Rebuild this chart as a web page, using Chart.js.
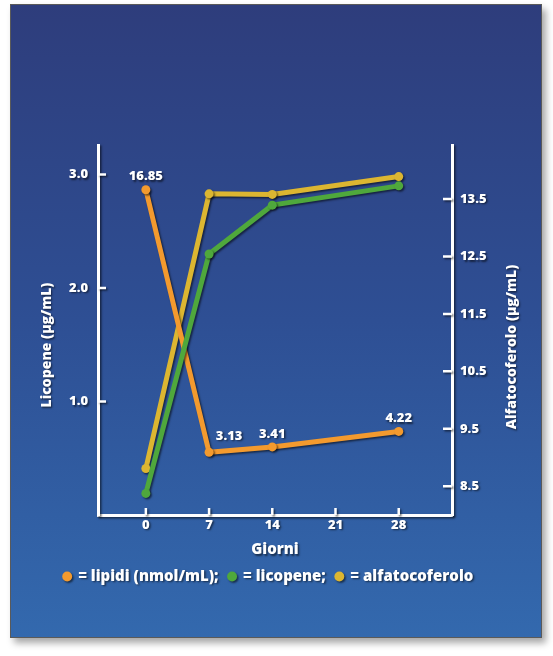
<!DOCTYPE html>
<html>
<head>
<meta charset="utf-8">
<script src="https://cdn.jsdelivr.net/npm/chart.js@4.4.1/dist/chart.umd.min.js"></script>
<style>
html, body { margin: 0; padding: 0; background: #ffffff; }
#panel {
    position: absolute; left: 10px; top: 4px; width: 530px; height: 632px;
    border: 1px solid #5a5a5a;
    background: linear-gradient(to bottom, #2e3d7c 0%, #2e4f94 50%, #3369ae 100%);
    box-shadow: 4px 5px 7px rgba(0,0,0,0.35);
}
#wrap { position: absolute; left: 0; top: 0; width: 553px; height: 656px; }
</style>
</head>
<body>
<div id="panel"></div>
<div id="wrap"><canvas id="grafico"></canvas></div>
<script>
// giorni (asse x)
var giorni_ticks = [0, 7, 14, 21, 28]
var giorni = [0, 7, 14, 28]
// serie
var lipidi = [16.85, 3.13, 3.41, 4.22]          // nmol/mL (etichette sui punti)
var licopene = [0.19, 2.30, 2.73, 2.90]         // ug/mL, asse sinistro
var alfatocoferolo = [8.81, 13.59, 13.58, 13.89] // ug/mL, asse destro
// tacche
var licopene_ticks = [1.0, 2.0, 3.0]
var alfa_ticks = [8.5, 9.5, 10.5, 11.5, 12.5, 13.5]

var titolo_sx = "Licopene (\u00b5g/mL)"
var titolo_dx = "Alfatocoferolo (\u00b5g/mL)"
var titolo_x = "Giorni"

var ARANCIO = "#f39a2e"
var VERDE = "#4fa83c"
var GIALLO = "#dcb631"
var FONT = "'Open Sans', 'DejaVu Sans', sans-serif"

function punti(valori){
    return giorni.map(function(g, i){ return {x: g, y: valori[i]} })
}

function setTicks(valori){
    return function(scale){
        scale.ticks = valori.map(function(v){ return {value: v} })
    }
}

var decorazioni = {
    id: "decorazioni",
    beforeDraw: function(chart){
        var ctx = chart.ctx
        ctx.save()
        ctx.shadowColor = "rgba(0,0,0,0.55)"
        ctx.shadowOffsetX = 1.5
        ctx.shadowOffsetY = 1.5
        ctx.shadowBlur = 2
    },
    afterDraw: function(chart){
        var ctx = chart.ctx
        var area = chart.chartArea
        var sx = chart.scales.y, dx = chart.scales.y2, xs = chart.scales.x

        // tacche interne
        ctx.strokeStyle = "#ffffff"
        ctx.lineWidth = 2.5
        ctx.beginPath()
        licopene_ticks.forEach(function(v){
            var py = sx.getPixelForValue(v)
            ctx.moveTo(area.left, py); ctx.lineTo(area.left + 8, py)
        })
        alfa_ticks.forEach(function(v){
            var py = dx.getPixelForValue(v)
            ctx.moveTo(area.right, py); ctx.lineTo(area.right - 9, py)
        })
        giorni_ticks.forEach(function(v){
            var px = xs.getPixelForValue(v)
            ctx.moveTo(px, area.bottom); ctx.lineTo(px, area.bottom - 7)
        })
        ctx.stroke()

        // etichette lipidi
        ctx.fillStyle = "#ffffff"
        ctx.font = "800 13px " + FONT
        ctx.textAlign = "center"
        ctx.textBaseline = "middle"
        var meta = chart.getDatasetMeta(0)
        meta.data.forEach(function(p, i){
            var ox = (i == 1) ? 20 : 0
            var oy = (i == 1) ? -16 : -13
            ctx.fillText(lipidi[i].toFixed(2), p.x + ox, p.y + oy)
        })

        // titoli assi verticali
        ctx.font = "800 14px " + FONT
        ctx.save()
        ctx.translate(47, 345)
        ctx.rotate(-Math.PI / 2)
        ctx.fillText(titolo_sx, 0, 0)
        ctx.restore()
        ctx.save()
        ctx.translate(512, 347)
        ctx.rotate(-Math.PI / 2)
        ctx.fillText(titolo_dx, 0, 0)
        ctx.restore()

        ctx.restore()
    }
}

var tickFont = {family: FONT, size: 13, weight: "800"}

var ctx = document.getElementById("grafico").getContext("2d")
var grafico = new Chart(ctx, {
    type: "line",
    data: {
        datasets: [{
            label: "lipidi (nmol/mL)",
            data: punti(lipidi),
            yAxisID: "y3",
            borderColor: ARANCIO,
            backgroundColor: ARANCIO,
            order: 1
        }, {
            label: "licopene",
            data: punti(licopene),
            yAxisID: "y",
            borderColor: VERDE,
            backgroundColor: VERDE,
            order: 0
        }, {
            label: "alfatocoferolo",
            data: punti(alfatocoferolo),
            yAxisID: "y2",
            borderColor: GIALLO,
            backgroundColor: GIALLO,
            order: 2
        }]
    },
    options: {
        responsive: true,
        maintainAspectRatio: false,
        animation: false,
        layout: {padding: {top: 145, left: 0, right: 16, bottom: 62}},
        elements: {
            line: {borderWidth: 5, tension: 0},
            point: {radius: 4.5, borderWidth: 0, hoverRadius: 4.5}
        },
        scales: {
            x: {
                type: "linear",
                min: -5.3,
                max: 33.9,
                afterBuildTicks: setTicks(giorni_ticks),
                afterFit: function(s){ s.height = 44 },
                grid: {display: false, drawTicks: false},
                border: {color: "#ffffff", width: 3},
                ticks: {color: "#ffffff", font: tickFont, padding: 2},
                title: {display: true, text: titolo_x, color: "#ffffff",
                        font: {family: FONT, size: 15, weight: "800"}, padding: 0}
            },
            y: {
                position: "left",
                min: 0,
                max: 3.26,
                afterBuildTicks: setTicks(licopene_ticks),
                afterFit: function(s){ s.width = 98 },
                grid: {display: false, drawTicks: false},
                border: {color: "#ffffff", width: 3},
                ticks: {color: "#ffffff", font: tickFont, padding: 10,
                        callback: function(v){ return v.toFixed(1) }}
            },
            y2: {
                position: "right",
                min: 8.0,
                max: 14.44,
                afterBuildTicks: setTicks(alfa_ticks),
                afterFit: function(s){ s.width = 85 },
                grid: {display: false, drawTicks: false},
                border: {color: "#ffffff", width: 3},
                ticks: {color: "#ffffff", font: tickFont, padding: 8,
                        callback: function(v){ return v.toFixed(1) }}
            },
            y3: {
                display: false,
                min: -0.15,
                max: 19.19
            }
        },
        plugins: {
            tooltip: {enabled: false},
            legend: {
                position: "bottom",
                labels: {
                    color: "#ffffff",
                    font: {family: FONT, size: 15, weight: "800"},
                    usePointStyle: true,
                    pointStyle: "circle",
                    boxHeight: 7,
                    boxWidth: 7,
                    padding: 10,
                    sort: function(a, b){ return a.datasetIndex - b.datasetIndex },
                    generateLabels: function(chart){
                        var items = Chart.defaults.plugins.legend.labels.generateLabels(chart)
                        items.sort(function(a, b){ return a.datasetIndex - b.datasetIndex })
                        items.forEach(function(it, i){
                            it.text = "= " + it.text + (i < items.length - 1 ? ";" : "")
                            it.lineWidth = 0
                            it.pointStyle = "circle"
                        })
                        return items
                    }
                }
            }
        }
    },
    plugins: [decorazioni]
})
</script>
</body>
</html>
